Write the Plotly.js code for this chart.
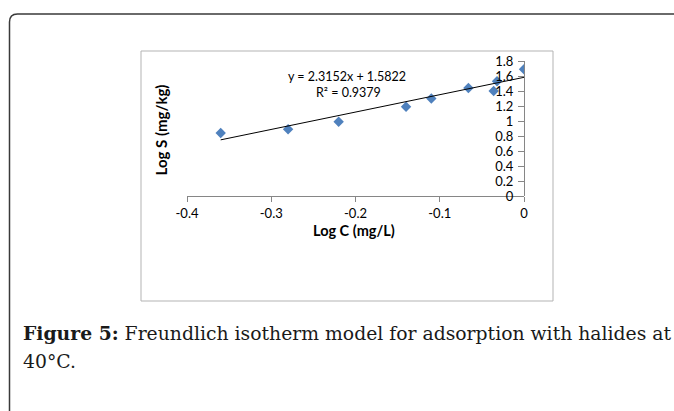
<!DOCTYPE html>
<html>
<head>
<meta charset="utf-8">
<script src="https://cdn.plot.ly/plotly-3.0.1.min.js"></script>
<style>
html,body{margin:0;padding:0;background:#fff;}
#chart{width:674px;height:411px;}
</style>
</head>
<body>
<div id="chart"></div>
<script>
// ---- data ----
const logC = [-0.36, -0.28, -0.22, -0.14, -0.11, -0.066, -0.036, -0.032, 0];
const logS = [0.84, 0.89, 0.99, 1.19, 1.30, 1.44, 1.40, 1.53, 1.69];
const slope = 2.3152;
const intercept = 1.5822;
const equationText = "y = 2.3152x + 1.5822";
const r2Text = "R² = 0.9379";
const xTickVals = [-0.4, -0.3, -0.2, -0.1, 0];
const xTickText = ["-0.4", "-0.3", "-0.2", "-0.1", "0"];
const yTickVals = [0, 0.2, 0.4, 0.6, 0.8, 1, 1.2, 1.4, 1.6, 1.8];
const yTickText = ["0", "0.2", "0.4", "0.6", "0.8", "1", "1.2", "1.4", "1.6", "1.8"];
const xTitle = "Log C (mg/L)";
const yTitle = "Log S (mg/kg)";
const captionBold = "Figure 5:";
const captionLine1 = " Freundlich isotherm model for adsorption with halides at";
const captionLine2 = "40°C.";

// ---- figure geometry (pixels) ----
const W = 674, H = 411;
const L = 187, R = 524, T = 61, B = 196;
const pw = R - L, ph = B - T;
const px = v => (v - L) / pw;      // pixel x -> paper x
const py = v => (B - v) / ph;      // pixel y -> paper y

const trendX = [Math.min(...logC), Math.max(...logC)];
const trendY = trendX.map(x => slope * x + intercept);

const chartFont = "Lato, 'Open Sans', sans-serif";
const serifFont = "'DejaVu Serif', 'Liberation Serif', serif";

const traces = [
  {
    x: logC, y: logS, type: "scatter", mode: "markers",
    marker: {symbol: "diamond", size: 8, color: "#4F81BD", line: {width: 0}},
    showlegend: false, hoverinfo: "x+y"
  },
  {
    x: trendX, y: trendY, type: "scatter", mode: "lines",
    line: {color: "#000", width: 1},
    showlegend: false, hoverinfo: "skip"
  }
];

const r = 8;
const xl = px(9.5), yt = py(14);
const outerPath = `M ${xl} ${py(430)} L ${xl} ${py(14 + r)} Q ${xl} ${yt} ${px(9.5 + r)} ${yt} L ${px(700)} ${yt}`;

const layout = {
  width: W, height: H,
  margin: {l: L, r: W - R, t: T, b: H - B, pad: 0},
  paper_bgcolor: "#fff", plot_bgcolor: "rgba(0,0,0,0)",
  font: {family: chartFont, size: 12, color: "#000"},
  showlegend: false,
  xaxis: {
    range: [-0.4, 0], tickvals: xTickVals, ticktext: xTickText,
    showgrid: false, zeroline: false, showline: true, linecolor: "#868686", linewidth: 1,
    ticks: "outside", ticklen: 5, tickcolor: "#868686", ticklabelstandoff: 0,
    tickfont: {family: chartFont, size: 13, color: "#000"}
  },
  yaxis: {
    range: [0, 1.8], tickvals: yTickVals, ticktext: yTickText,
    anchor: "free", position: 1, side: "left",
    showgrid: false, zeroline: false, showline: true, linecolor: "#868686", linewidth: 1,
    ticks: "outside", ticklen: 6, tickcolor: "#868686", ticklabelstandoff: 2,
    tickfont: {family: chartFont, size: 13, color: "#000"}
  },
  shapes: [
    {type: "rect", xref: "paper", yref: "paper", x0: px(141), x1: px(553), y0: py(301), y1: py(51),
     line: {color: "#b3b3b3", width: 1}, fillcolor: "rgba(0,0,0,0)", layer: "below"},
    {type: "path", xref: "paper", yref: "paper", path: outerPath,
     line: {color: "#3a3a3a", width: 1.5}}
  ],
  annotations: [
    {xref: "paper", yref: "paper", x: px(353.5), y: py(230), text: "<b>" + xTitle + "</b>",
     showarrow: false, xanchor: "center", yanchor: "middle",
     font: {family: chartFont, size: 14.5, color: "#000"}},
    {xref: "paper", yref: "paper", x: px(160.5), y: py(130), text: "<b>" + yTitle + "</b>",
     textangle: -90, showarrow: false, xanchor: "center", yanchor: "middle",
     font: {family: chartFont, size: 15, color: "#000"}},
    {xref: "paper", yref: "paper", x: px(347), y: py(76), text: equationText,
     showarrow: false, xanchor: "center", yanchor: "middle",
     font: {family: chartFont, size: 12.5, color: "#000"}},
    {xref: "paper", yref: "paper", x: px(348), y: py(92.5), text: r2Text,
     showarrow: false, xanchor: "center", yanchor: "middle",
     font: {family: chartFont, size: 12.5, color: "#000"}},
    {xref: "paper", yref: "paper", x: px(21), y: py(333), text: "<b>" + captionBold + "</b>" + captionLine1,
     showarrow: false, xanchor: "left", yanchor: "middle", align: "left",
     font: {family: serifFont, size: 18.8, color: "#1a1a1a"}},
    {xref: "paper", yref: "paper", x: px(21), y: py(362), text: captionLine2,
     showarrow: false, xanchor: "left", yanchor: "middle", align: "left",
     font: {family: serifFont, size: 18.8, color: "#1a1a1a"}}
  ]
};

Plotly.newPlot("chart", traces, layout, {displayModeBar: false, staticPlot: true});
</script>
</body>
</html>
